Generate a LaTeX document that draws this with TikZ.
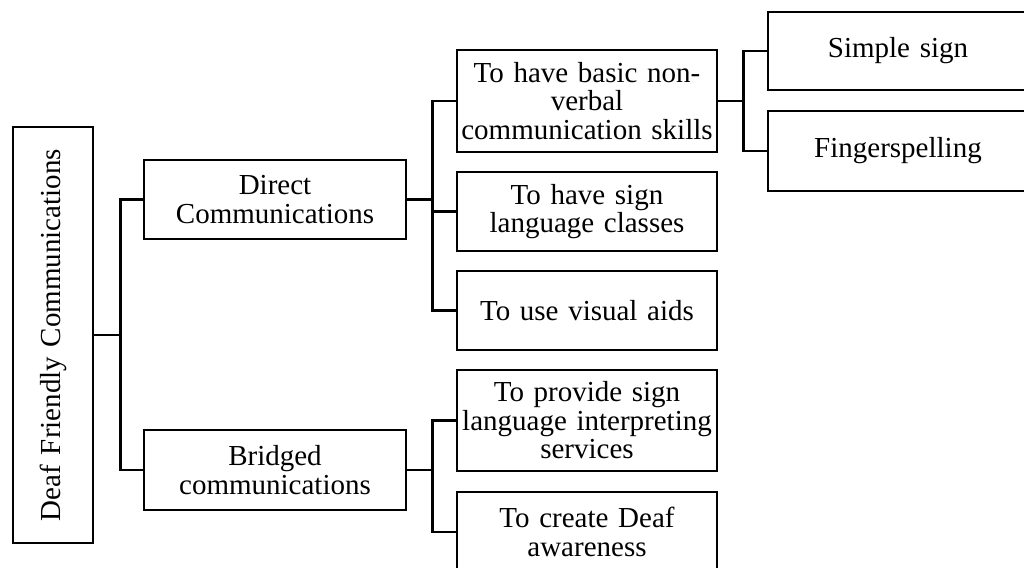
\documentclass[tikz,border=0pt]{standalone}
\usepackage{fontspec}
\setmainfont{Liberation Serif}
\begin{document}
\begin{tikzpicture}[x=1pt,y=-1pt,
  line width=2.6pt,
  box/.style={draw=black, rectangle, inner sep=0pt, align=center,
    text width=258pt, font=\fontsize{29}{28.5}\selectfont},
  link/.style={draw=black, line width=2.6pt}]
\clip (0,0) rectangle (1024,567);
\fill[white] (0,0) rectangle (1024,567);

% root, rotated
\node[box, rotate=90, text width=410pt, minimum width=416pt, minimum height=80pt] (root) at (53,335) {Deaf Friendly Communications};

% second level
\node[box, minimum width=262pt, minimum height=79pt] (direct) at (275,199.5) {Direct\\Communications};
\node[box, minimum width=262pt, minimum height=80pt] (bridged) at (275,470) {Bridged\\communications};

% third level
\node[box, minimum width=260pt, minimum height=102pt] (nonverbal) at (587,101) {To have basic non-\\verbal\\communication skills};
\node[box, minimum width=260pt, minimum height=79pt] (classes) at (587,211.5) {To have sign\\language classes};
\node[box, minimum width=260pt, minimum height=79pt] (visual) at (587,310.5) {To use visual aids};
\node[box, minimum width=260pt, minimum height=101pt] (interp) at (587,420.5) {To provide sign\\language interpreting\\services};
\node[box, minimum width=260pt, minimum height=80pt] (aware) at (587,532) {To create Deaf\\awareness};

% fourth level
\node[box, minimum width=260pt, minimum height=78pt] (simple) at (898,51) {Simple sign};
\node[box, minimum width=260pt, minimum height=80pt] (finger) at (898,151) {Fingerspelling};

% connectors
\draw[link] (root.south) -- ++(26,0) |- (direct.west);
\draw[link] (root.south) -- ++(26,0) |- (bridged.west);

\draw[link] (direct.east) -- ++(25,0) |- (nonverbal.west);
\draw[link] (direct.east) -- ++(25,0) |- (classes.west);
\draw[link] (direct.east) -- ++(25,0) |- (visual.west);

\draw[link] (bridged.east) -- ++(25,0) |- (interp.west);
\draw[link] (bridged.east) -- ++(25,0) |- (aware.west);

\draw[link] (nonverbal.east) -- ++(25,0) |- (simple.west);
\draw[link] (nonverbal.east) -- ++(25,0) |- (finger.west);
\end{tikzpicture}
\end{document}
